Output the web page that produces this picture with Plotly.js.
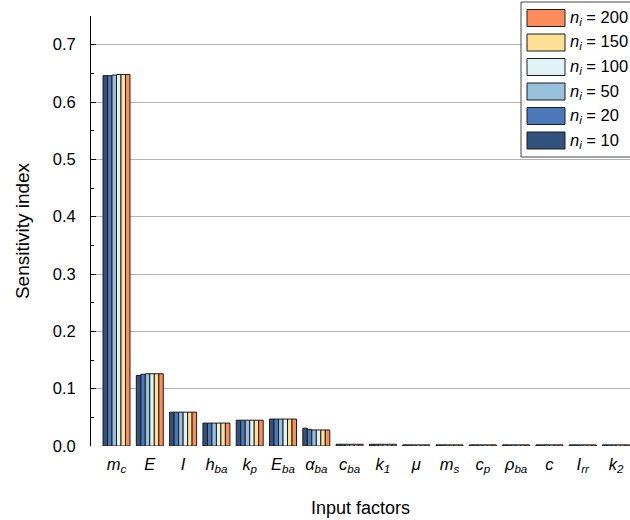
<!DOCTYPE html>
<html>
<head>
<meta charset="utf-8">
<script src="https://cdn.plot.ly/plotly-3.0.1.min.js"></script>
<style>
  html, body { margin: 0; padding: 0; background: #fff; }
  #chart { width: 630px; height: 520px; }
</style>
</head>
<body>
<div id="chart"></div>
<script>
// Input factors (keys) and their typeset labels
const factorKeys = ['mc', 'E', 'I', 'hba', 'kp', 'Eba', 'aba', 'cba', 'k1', 'mu', 'ms', 'cp', 'rba', 'c', 'Irr', 'k2'];
const factorLabels = [
  '<i>m<sub>c</sub></i>', '<i>E</i>', '<i>I</i>', '<i>h<sub>ba</sub></i>', '<i>k<sub>p</sub></i>',
  '<i>E<sub>ba</sub></i>', '<i>α<sub>ba</sub></i>', '<i>c<sub>ba</sub></i>', '<i>k<sub>1</sub></i>',
  '<i>μ</i>', '<i>m<sub>s</sub></i>', '<i>c<sub>p</sub></i>', '<i>ρ<sub>ba</sub></i>', '<i>c</i>',
  '<i>I<sub>rr</sub></i>', '<i>k<sub>2</sub></i>'
];

// Sample sizes and the sensitivity index of each factor for each
const sampleSizes = [10, 20, 50, 100, 150, 200];
const s10  = [0.646, 0.123, 0.059, 0.040, 0.045, 0.047, 0.031, 0.003, 0.003, 0.002, 0.002, 0.002, 0.002, 0.002, 0.002, 0.002];
const s20  = [0.646, 0.125, 0.059, 0.040, 0.045, 0.047, 0.029, 0.003, 0.003, 0.002, 0.002, 0.002, 0.002, 0.002, 0.002, 0.002];
const s50  = [0.647, 0.126, 0.059, 0.040, 0.045, 0.047, 0.028, 0.003, 0.003, 0.002, 0.002, 0.002, 0.002, 0.002, 0.002, 0.002];
const s100 = [0.648, 0.126, 0.059, 0.040, 0.045, 0.047, 0.028, 0.003, 0.003, 0.002, 0.002, 0.002, 0.002, 0.002, 0.002, 0.002];
const s150 = [0.648, 0.126, 0.059, 0.040, 0.045, 0.047, 0.028, 0.003, 0.003, 0.002, 0.002, 0.002, 0.002, 0.002, 0.002, 0.002];
const s200 = [0.648, 0.126, 0.059, 0.040, 0.045, 0.047, 0.028, 0.003, 0.003, 0.002, 0.002, 0.002, 0.002, 0.002, 0.002, 0.002];
const seriesValues = [s10, s20, s50, s100, s150, s200];
const seriesColors = ['#34527e', '#4a78b8', '#97c1dc', '#e2f3f8', '#fee195', '#fc8d5a'];

const FONT = 'Liberation Sans, Arial, sans-serif';

const traces = sampleSizes.map((n, k) => ({
  type: 'bar',
  name: 'n = ' + n,
  x: factorKeys,
  y: seriesValues[k],
  marker: { color: seriesColors[k], line: { color: '#1c1c1c', width: 1 } },
  showlegend: false,
  hoverinfo: 'y'
}));

// Boxed key in the upper-right corner, largest sample size first
const plotL = 91, plotR = 630, plotT = 16, plotB = 446;
const px = v => (v - plotL) / (plotR - plotL);
const py = v => (plotB - v) / (plotB - plotT);

const shapes = [{
  type: 'rect', xref: 'paper', yref: 'paper',
  x0: px(521), x1: px(640), y0: py(157), y1: py(2),
  fillcolor: '#ffffff', line: { color: '#444', width: 1 }, layer: 'above'
}];
const annotations = [];
const order = sampleSizes.map((_, k) => k).reverse();
order.forEach((k, row) => {
  const cy = 18 + row * 24.5;
  shapes.push({
    type: 'rect', xref: 'paper', yref: 'paper',
    x0: px(527), x1: px(565), y0: py(cy + 8.5), y1: py(cy - 8.5),
    fillcolor: seriesColors[k], line: { color: '#1c1c1c', width: 1 }, layer: 'above'
  });
  annotations.push({
    xref: 'paper', yref: 'paper', x: px(568), y: py(cy),
    xanchor: 'left', yanchor: 'middle', showarrow: false,
    text: '<i>n<sub>i</sub></i> = ' + sampleSizes[k],
    font: { family: FONT, size: 16.5, color: '#000' }
  });
});

const layout = {
  width: 630, height: 520,
  margin: { l: plotL, r: 0, t: plotT, b: 520 - plotB },
  paper_bgcolor: '#fff', plot_bgcolor: '#fff',
  barmode: 'group', bargap: 0.19, bargroupgap: 0,
  font: { family: FONT, size: 16, color: '#000' },
  xaxis: {
    type: 'category',
    range: [-0.766, 15.42],
    tickmode: 'array', tickvals: factorKeys, ticktext: factorLabels,
    showline: false, ticks: '', showgrid: false, zeroline: false,
    tickfont: { family: FONT, size: 16.5 },
    ticklabelstandoff: 6,
    title: { text: 'Input factors', font: { family: FONT, size: 18 }, standoff: 27 }
  },
  yaxis: {
    range: [0, 0.75], dtick: 0.1, tick0: 0, tickformat: '.1f',
    showline: true, linecolor: '#000', linewidth: 1,
    ticks: 'inside', ticklen: 5, tickcolor: '#000', tickwidth: 1,
    minor: { dtick: 0.05, ticks: 'inside', ticklen: 3, tickcolor: '#000', showgrid: false },
    showgrid: true, gridcolor: '#b4b4b4', gridwidth: 1, zeroline: false,
    tickfont: { family: FONT, size: 16.5 },
    ticklabelstandoff: 11,
    title: { text: 'Sensitivity index', font: { family: FONT, size: 19 }, standoff: 18 }
  },
  shapes: shapes,
  annotations: annotations
};

Plotly.newPlot('chart', traces, layout, { displayModeBar: false, staticPlot: true });
</script>
</body>
</html>
